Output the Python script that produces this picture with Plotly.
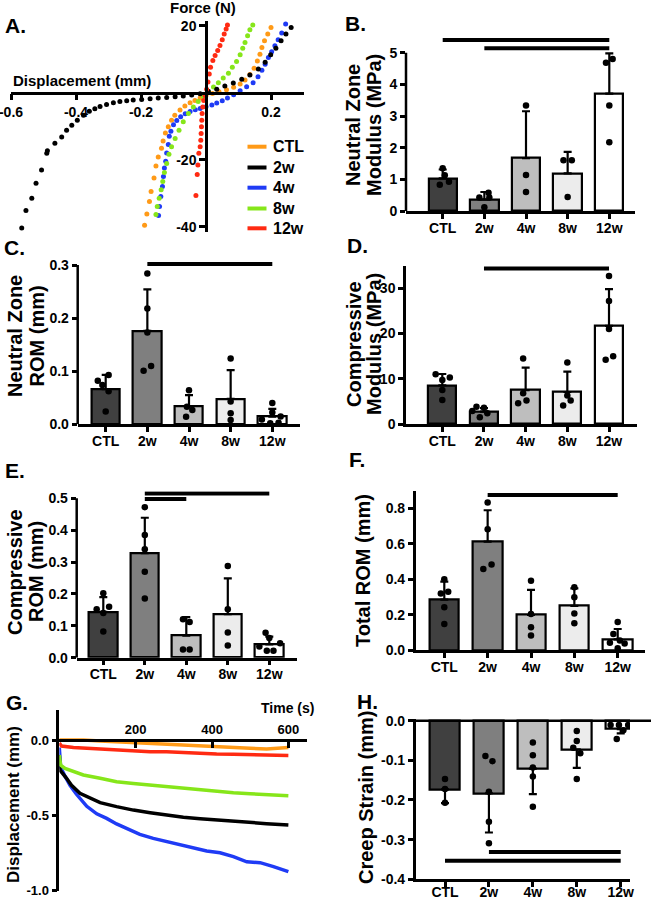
import plotly.graph_objects as go

W, H = 651, 900
FONT = "Liberation Sans, Arial, Helvetica, sans-serif"

# ===================== DATA =====================
groups = ["CTL", "2w", "4w", "8w", "12w"]

# Panel A: force (N) vs displacement (mm)
a_ctl_disp = [-0.189, -0.182, -0.174, -0.169, -0.160, -0.154, -0.147, -0.137, -0.132, -0.125, -0.116, -0.106,
              -0.096, -0.080, -0.065, -0.049, -0.034, -0.018, 0.0, 0.02, 0.04, 0.063, 0.085, 0.105, 0.12,
              0.135, 0.148, 0.158, 0.166, 0.172, 0.18, 0.19, 0.2]
a_ctl_force = [-39.6, -36.2, -32.5, -29.5, -25.5, -21.9, -19.2, -16.6, -14.4, -12.0, -10.2, -8.2,
               -6.7, -5.2, -4.0, -3.0, -2.3, -1.6, -0.8, -0.2, 0.3, 0.9, 1.6, 2.6, 3.8,
               5.4, 7.3, 9.5, 11.5, 13.5, 15.5, 17.5, 19.5]
a_2w_disp = [-0.567, -0.554, -0.536, -0.523, -0.506, -0.49, -0.488, -0.465, -0.444, -0.429, -0.413, -0.396,
             -0.377, -0.359, -0.342, -0.326, -0.306, -0.285, -0.265, -0.244, -0.224, -0.198, -0.172, -0.147,
             -0.121, -0.095, -0.07, -0.044, -0.018, 0.007, 0.033, 0.058, 0.084, 0.11, 0.135, 0.161, 0.182,
             0.199, 0.215, 0.231, 0.246, 0.262]
a_2w_force = [-40.4, -35.2, -31.5, -27.0, -23.1, -18.1, -17.3, -15.1, -13.2, -11.2, -9.7, -8.2,
              -6.7, -5.5, -4.8, -4.1, -3.5, -3.0, -2.6, -2.4, -2.2, -2.0, -1.8, -1.6,
              -1.4, -1.2, -1.0, -0.7, -0.3, 0.4, 1.0, 2.0, 2.9, 4.0, 5.3, 7.1, 9.1,
              11.3, 13.3, 15.5, 17.5, 19.5]
a_4w_disp = [-0.146, -0.143, -0.139, -0.134, -0.131, -0.128, -0.124, -0.121, -0.116, -0.113, -0.108, -0.100,
             -0.090, -0.078, -0.064, -0.049, -0.033, -0.018, 0.0, 0.018, 0.033, 0.05, 0.066, 0.085, 0.105,
             0.125, 0.145, 0.16, 0.172, 0.182, 0.192, 0.202, 0.212, 0.222, 0.233, 0.245]
a_4w_force = [-36.7, -34.0, -31.0, -28.0, -25.0, -22.5, -20.5, -18.0, -15.5, -13.0, -11.5, -9.6,
              -8.3, -7.2, -6.3, -5.6, -5.1, -4.7, -4.2, -3.7, -3.1, -2.4, -1.6, -0.6, 0.6,
              1.8, 3.0, 4.8, 6.7, 8.5, 10.5, 12.2, 14.0, 15.8, 17.8, 20.5]
a_8w_disp = [-0.154, -0.15, -0.144, -0.138, -0.133, -0.128, -0.121, -0.114, -0.106, -0.095, -0.083, -0.07,
             -0.054, -0.039, -0.024, -0.008, 0.007, 0.023, 0.038, 0.053, 0.069, 0.081, 0.094, 0.105,
             0.113, 0.12, 0.128, 0.135, 0.144]
a_8w_force = [-36.4, -34.0, -31.5, -29.0, -26.5, -23.8, -21.1, -18.4, -16.1, -13.7, -11.2, -8.7,
              -6.2, -4.3, -2.6, -1.1, 0.4, 1.7, 3.0, 4.4, 5.8, 7.6, 9.3, 11.3,
              13.3, 15.0, 17.0, 18.8, 20.2]
a_12w_disp = [-0.031, -0.027, -0.025, -0.022, -0.018, -0.016, -0.015, -0.014, -0.013, -0.012, -0.01, -0.007,
              -0.003, 0.002, 0.006, 0.01, 0.014, 0.021, 0.028, 0.036, 0.043, 0.05, 0.056, 0.062, 0.066]
a_12w_force = [-30.7, -24.4, -21.6, -18.1, -16.1, -14.2, -12.2, -10.2, -8.2, -6.2, -4.3, -2.3,
               -0.8, 1.0, 3.2, 5.6, 7.6, 9.6, 11.1, 12.6, 14.1, 15.8, 17.5, 19.0, 20.2]

# Panel B: Neutral Zone Modulus (MPa)
b_mean = [1.03, 0.37, 1.67, 1.19, 3.71]
b_sd = [0.28, 0.23, 1.48, 0.68, 1.27]
b_pts = [[1.35, 1.13, 0.92, 0.83], [0.58, 0.43, 0.43, 0.12], [3.33, 1.14, 0.60],
         [1.60, 1.60, 0.44], [4.80, 4.68, 3.33, 2.17]]
b_sig = [("CTL", "12w", 5.4), ("2w", "12w", 5.14)]

# Panel C: Neutral Zone ROM (mm)
c_mean = [0.066, 0.176, 0.033, 0.048, 0.0145]
c_sd = [0.027, 0.078, 0.022, 0.054, 0.0145]
c_pts = [[0.093, 0.082, 0.074, 0.062, 0.024], [0.284, 0.218, 0.173, 0.110, 0.101],
         [0.064, 0.033, 0.027, 0.014], [0.124, 0.043, 0.021, 0.008],
         [0.040, 0.022, 0.0145, 0.009, 0.003, 0.002]]
c_sig = [("2w", "12w", 0.302)]

# Panel D: Compressive Modulus (MPa)
d_mean = [8.55, 2.73, 7.5, 7.07, 21.7]
d_sd = [2.5, 0.8, 4.95, 4.53, 8.1]
d_pts = [[11.0, 10.3, 9.7, 7.5, 5.3], [3.8, 3.6, 2.9, 2.4, 1.5], [14.5, 6.8, 5.2, 4.6],
         [13.6, 6.3, 5.2, 4.1], [32.7, 27.2, 21.0, 15.0, 14.2]]
d_sig = [("2w", "12w", 34.4)]

# Panel E: Compressive ROM (mm)
e_mean = [0.144, 0.328, 0.069, 0.137, 0.042]
e_sd = [0.046, 0.111, 0.058, 0.112, 0.024]
e_pts = [[0.202, 0.160, 0.152, 0.140, 0.082], [0.472, 0.385, 0.340, 0.270, 0.186],
         [0.121, 0.112, 0.026, 0.026], [0.288, 0.152, 0.079, 0.038],
         [0.078, 0.062, 0.045, 0.035, 0.022, 0.022]]
e_sig = [("2w", "12w", 0.515), ("2w", "4w", 0.498)]

# Panel F: Total ROM (mm)
f_mean = [0.285, 0.612, 0.199, 0.25, 0.062]
f_sd = [0.102, 0.177, 0.141, 0.099, 0.058]
f_pts = [[0.40, 0.33, 0.32, 0.242, 0.148], [0.832, 0.682, 0.484, 0.458],
         [0.392, 0.205, 0.13, 0.083], [0.355, 0.299, 0.208, 0.152],
         [0.16, 0.092, 0.055, 0.043, 0.039, 0.011]]
f_sig = [("2w", "12w", 0.875)]

# Panel G: creep displacement (mm) vs time (s)
g_ctl_t = [0, 63, 107, 194, 238, 281, 325, 369, 412, 456, 500, 543, 600]
g_ctl_y = [0.0, 0.0, -0.007, -0.018, -0.022, -0.029, -0.035, -0.044, -0.049, -0.051, -0.055, -0.06, -0.049]
g_2w_t = [0, 2, 19, 32, 54, 80, 107, 150, 194, 238, 281, 325, 369, 412, 456, 500, 543, 600]
g_2w_y = [-0.1, -0.2, -0.254, -0.3, -0.354, -0.387, -0.416, -0.442, -0.465, -0.482, -0.498, -0.513,
          -0.522, -0.531, -0.542, -0.549, -0.555, -0.564]
g_4w_t = [0, 3.5, 15, 28, 45, 72, 98, 124, 150, 176, 211, 246, 281, 316, 351, 386, 421, 456, 491, 526, 561, 600]
g_4w_y = [-0.05, -0.18, -0.24, -0.3, -0.36, -0.44, -0.49, -0.52, -0.557, -0.586, -0.626, -0.653, -0.675,
          -0.697, -0.719, -0.737, -0.748, -0.774, -0.808, -0.814, -0.84, -0.874]
g_8w_t = [0, 3.5, 15, 37, 63, 107, 150, 194, 238, 281, 325, 369, 412, 456, 500, 543, 600]
g_8w_y = [-0.1, -0.166, -0.188, -0.21, -0.232, -0.254, -0.277, -0.288, -0.299, -0.31, -0.321, -0.332,
          -0.338, -0.35, -0.356, -0.363, -0.37]
g_12w_t = [0, 6, 37, 107, 194, 238, 281, 325, 369, 412, 456, 500, 543, 600]
g_12w_y = [-0.02, -0.04, -0.049, -0.06, -0.071, -0.077, -0.077, -0.084, -0.088, -0.093, -0.095, -0.097,
           -0.097, -0.102]

# Panel H: Creep Strain (mm)
h_mean = [-0.173, -0.183, -0.121, -0.072, -0.021]
h_sd = [0.035, 0.099, 0.064, 0.047, 0.011]
h_pts = [[-0.147, -0.172, -0.207], [-0.089, -0.102, -0.179, -0.255, -0.309],
         [-0.055, -0.087, -0.118, -0.141, -0.217], [-0.026, -0.051, -0.068, -0.082, -0.147],
         [-0.011, -0.011, -0.011, -0.024, -0.046]]
h_sig = [("2w", "12w", -0.331), ("CTL", "12w", -0.353)]

# ===================== STYLE / LAYOUT =====================
LINE_COL = {"CTL": "#FF9A17", "2w": "#000000", "4w": "#1F3BF5", "8w": "#86E61A", "12w": "#FF2A12"}
BAR_FILL = ["#404040", "#7f7f7f", "#bebebe", "#ececec", "#ffffff"]
BAR_W = 0.68

# horizontal jitter of dots (category units)
JIT = {
    "B": [[0, 0.05, 0.15, -0.07], [0.1, -0.12, 0.12, 0], [0, 0, 0], [-0.1, 0.1, 0], [0.08, -0.08, 0, 0]],
    "C": [[0.07, -0.19, -0.08, 0.07, 0], [0, 0, 0, 0.09, -0.09], [0, -0.05, 0.08, -0.07], [0, 0, 0, 0],
          [0, 0, 0.2, -0.25, 0.15, -0.05]],
    "D": [[-0.16, 0.18, 0, 0, 0], [-0.18, 0, -0.28, 0.08, -0.1], [-0.06, -0.06, 0.02, -0.18],
          [0, 0, 0.08, -0.1], [0, 0, 0, 0.1, -0.08]],
    "E": [[0, 0.14, -0.16, 0, 0], [0, 0, 0, 0, 0], [-0.08, 0.08, -0.08, 0.08], [0, 0, 0, 0],
          [-0.09, 0, 0.26, -0.24, -0.06, 0.1]],
    "F": [[0, 0.09, -0.08, 0, 0], [0, 0, 0.09, -0.1], [0, 0, 0, 0], [0, 0, 0, 0],
          [0, -0.1, 0.05, -0.18, 0.16, 0]],
    "H": [[0, 0, 0], [-0.08, 0.08, 0, 0, 0], [0, 0, 0, 0, 0], [0, 0, -0.08, 0.08, 0],
          [-0.23, -0.04, 0.17, 0.06, -0.09]],
}


def fx(px):
    return px / W


def fy(py):
    return 1 - py / H


def lin(v, va, pa, vb, pb):
    return pa + (v - va) * (pb - pa) / (vb - va)


TICKFONT = dict(family=FONT, size=14, color="black", weight="bold")
AX = dict(showgrid=False, zeroline=False, showline=True, linecolor="black", linewidth=2.5,
          ticks="outside", ticklen=5, tickwidth=2.5, tickcolor="black", tickfont=TICKFONT,
          automargin=False, fixedrange=True, ticklabeloverflow="allow")

fig = go.Figure()
layout = {}
shapes = []
annotations = []

# ---------- Panel A ----------
A_xr = [-0.6, 0.3]
A_yr = [-41.5, 21.5]
A_xdom = [fx(11), fx(303.5)]
A_ydom = [fy(231.7), fy(20.7)]
a_curves = [("CTL", a_ctl_disp, a_ctl_force), ("4w", a_4w_disp, a_4w_force),
            ("8w", a_8w_disp, a_8w_force), ("2w", a_2w_disp, a_2w_force),
            ("12w", a_12w_disp, a_12w_force)]
for name, dx, fy_ in a_curves:
    fig.add_trace(go.Scatter(x=dx, y=fy_, mode="markers", marker=dict(color=LINE_COL[name], size=5),
                             xaxis="x", yaxis="y", showlegend=False, hoverinfo="skip", name=name))
xpos0 = A_ydom[0] + (0 - A_yr[0]) / (A_yr[1] - A_yr[0]) * (A_ydom[1] - A_ydom[0])
ypos0 = A_xdom[0] + (0 - A_xr[0]) / (A_xr[1] - A_xr[0]) * (A_xdom[1] - A_xdom[0])
layout["xaxis"] = dict(AX, domain=A_xdom, range=A_xr, anchor="free", position=xpos0, ticklen=6,
                       tickvals=[-0.6, -0.4, -0.2, 0.2], ticktext=["-0.6", "-0.4", "-0.2", "0.2"])
layout["yaxis"] = dict(AX, domain=A_ydom, range=A_yr, anchor="free", position=ypos0, ticklen=6,
                       tickvals=[20, -20, -40], ticktext=["20", "-20", "-40"])

# legend of panel A (swatch + label)
LEG_X0, LEG_X1, LEG_TX = 247.5, 266.5, 271
LEG_Y = [146.7, 167.5, 187.7, 208.5, 228.3]
for name, ly in zip(groups, LEG_Y):
    shapes.append(dict(type="line", xref="paper", yref="paper", x0=fx(LEG_X0), x1=fx(LEG_X1),
                       y0=fy(ly), y1=fy(ly), line=dict(color=LINE_COL[name], width=4)))

# ---------- Bar panels ----------
bar_panels = [
    ("B", 2, b_mean, b_sd, b_pts, b_sig, (406, 635), (442.7, 609.3), ((0, 211), (5, 52.7)), [0, 5.6], 5,
     [0, 1, 2, 3, 4, 5], ["0", "1", "2", "3", "4", "5"]),
    ("C", 3, c_mean, c_sd, c_pts, c_sig, (77.7, 300), (105.7, 272.3), ((0, 424.3), (0.3, 265)), [0, 0.307], 0.3,
     [0, 0.1, 0.2, 0.3], ["0.0", "0.1", "0.2", "0.3"]),
    ("D", 4, d_mean, d_sd, d_pts, d_sig, (406, 636.7), (442.3, 609), ((0, 424), (30, 288.3)), [0, 35], None,
     [0, 10, 20, 30], ["0", "10", "20", "30"]),
    ("E", 5, e_mean, e_sd, e_pts, e_sig, (76.7, 296.7), (103.3, 269.3), ((0, 657.7), (0.5, 498.3)), [0, 0.522], 0.5,
     [0, 0.1, 0.2, 0.3, 0.4, 0.5], ["0.0", "0.1", "0.2", "0.3", "0.4", "0.5"]),
    ("F", 6, f_mean, f_sd, f_pts, f_sig, (415.7, 645), (444.3, 617.7), ((0, 650.3), (0.8, 508.3)), [0, 0.9], None,
     [0, 0.2, 0.4, 0.6, 0.8], ["0.0", "0.2", "0.4", "0.6", "0.8"]),
    ("H", 8, h_mean, h_sd, h_pts, h_sig, (415.7, 630), (445, 620.7), ((0, 720.7), (-0.4, 879.3)), [-0.4, 0.005], None,
     [0, -0.1, -0.2, -0.3, -0.4], ["0.0", "-0.1", "-0.2", "-0.3", "-0.4"]),
]
for key, n, mean, sd, pts, sig, xpx, cpx, yref, yr, atop, tv, tt in bar_panels:
    xa, ya = f"x{n}", f"y{n}"
    sp = (cpx[1] - cpx[0]) / 4
    xr = [(xpx[0] - cpx[0]) / sp, (xpx[1] - cpx[0]) / sp]
    (va, pa), (vb, pb) = yref
    ybot = lin(yr[0], va, pa, vb, pb)
    ytop = lin(yr[1], va, pa, vb, pb)
    neg = mean[0] < 0
    err = dict(type="data", symmetric=False, color="black", thickness=2.2, width=4,
               array=[0] * 5 if neg else sd, arrayminus=sd if neg else [0] * 5)
    fig.add_trace(go.Bar(x=list(range(5)), y=mean, width=BAR_W, xaxis=xa, yaxis=ya, showlegend=False,
                         marker=dict(color=BAR_FILL, line=dict(color="black", width=2.2)), error_y=err,
                         hoverinfo="skip"))
    dx, dy = [], []
    for gi, (vals, offs) in enumerate(zip(pts, JIT[key])):
        for v, o in zip(vals, offs):
            dx.append(gi + o)
            dy.append(v)
    fig.add_trace(go.Scatter(x=dx, y=dy, mode="markers", marker=dict(color="black", size=6.5),
                             xaxis=xa, yaxis=ya, showlegend=False, hoverinfo="skip"))
    for g1, g2, lvl in sig:
        shapes.append(dict(type="line", xref=xa, yref=ya, x0=groups.index(g1), x1=groups.index(g2),
                           y0=lvl, y1=lvl, line=dict(color="black", width=4)))
    xaxis = dict(AX, domain=[fx(xpx[0]), fx(xpx[1])], range=xr, anchor=ya,
                 tickvals=list(range(5)), ticktext=groups, ticklabelstandoff=-3)
    yaxis = dict(AX, domain=[fy(ybot), fy(ytop)], range=yr, anchor=xa, tickvals=tv, ticktext=tt)
    if atop is not None:
        yaxis["showline"] = False
        shapes.append(dict(type="line", xref=f"{xa} domain", yref=ya, x0=0, x1=0, y0=yr[0], y1=atop,
                           line=dict(color="black", width=2.5)))
    if neg:
        xaxis["ticklabelstandoff"] = -7
        shapes.append(dict(type="line", xref="paper", yref=ya, x0=fx(xpx[0]), x1=1, y0=0, y1=0,
                           line=dict(color="black", width=2.5)))
    layout[f"xaxis{n}"] = xaxis
    layout[f"yaxis{n}"] = yaxis

# ---------- Panel G ----------
G_xr = [0, 648]
G_yr = [-1.0, 0.2]
G_xdom = [fx(59.3), fx(306.7)]
G_ydom = [fy(890.7), fy(709.9)]
g_curves = [("4w", g_4w_t, g_4w_y), ("2w", g_2w_t, g_2w_y), ("8w", g_8w_t, g_8w_y),
            ("12w", g_12w_t, g_12w_y), ("CTL", g_ctl_t, g_ctl_y)]
for name, t, y in g_curves:
    fig.add_trace(go.Scatter(x=t, y=y, mode="lines", line=dict(color=LINE_COL[name], width=3.5),
                             xaxis="x7", yaxis="y7", showlegend=False, hoverinfo="skip", name=name))
gpos0 = G_ydom[0] + (0 - G_yr[0]) / (G_yr[1] - G_yr[0]) * (G_ydom[1] - G_ydom[0])
layout["xaxis7"] = dict(AX, domain=G_xdom, range=G_xr, anchor="free", position=gpos0, side="top",
                        ticks="inside", ticklen=6, tickvals=[200, 400, 600], ticktext=["200", "400", "600"],
                        tickfont=dict(TICKFONT, size=13))
layout["yaxis7"] = dict(AX, domain=G_ydom, range=G_yr, anchor="x7", tickvals=[0, -0.5, -1.0],
                        ticktext=["0.0", "-0.5", "-1.0"], tickfont=dict(TICKFONT, size=13))


# ---------- Texts ----------
def ann(text, px, py, size, angle=0, xanchor="center"):
    annotations.append(dict(text=text, x=fx(px), y=fy(py), xref="paper", yref="paper", showarrow=False,
                            xanchor=xanchor, yanchor="middle", textangle=angle,
                            font=dict(family=FONT, size=size, color="black", weight="bold")))


for name, ly in zip(groups, LEG_Y):
    ann(name, LEG_TX, ly, 16, 0, "left")

for lab, px, py in [("A.", 3, 25), ("B.", 343, 23), ("C.", 2, 247), ("D.", 345, 246),
                    ("E.", 3, 470), ("F.", 347, 459), ("G.", 4, 702), ("H.", 355, 701)]:
    ann(lab, px, py, 21, 0, "left")

ann("Force (N)", 203, 8, 15)
ann("Displacement (mm)", 11, 80, 15, 0, "left")
ann("Time (s)", 287, 708, 14)
for text, px, py, size in [("Neutral Zone", 353, 125, 20), ("Modulus (MPa)", 374, 125, 20),
                           ("Neutral Zone", 15, 336, 20), ("ROM (mm)", 36.5, 336, 20),
                           ("Compressive", 354, 344, 20), ("Modulus (MPa)", 374, 344, 20),
                           ("Compressive", 15, 572, 20), ("ROM (mm)", 36, 572, 20),
                           ("Total ROM (mm)", 363, 571, 20), ("Displacement (mm)", 13, 805, 17),
                           ("Creep Strain (mm)", 366, 798, 20)]:
    ann(text, px, py, size, -90)

fig.update_layout(
    template="none",
    width=W, height=H,
    margin=dict(l=0, r=0, t=0, b=0, pad=0),
    paper_bgcolor="white", plot_bgcolor="rgba(0,0,0,0)",
    font=dict(family=FONT, color="black"),
    showlegend=False,
    shapes=shapes,
    annotations=annotations,
    bargap=0,
    **layout,
)
fig.write_html("out.html", config={"displayModeBar": False},
               post_script="document.body.style.margin='0px';")
